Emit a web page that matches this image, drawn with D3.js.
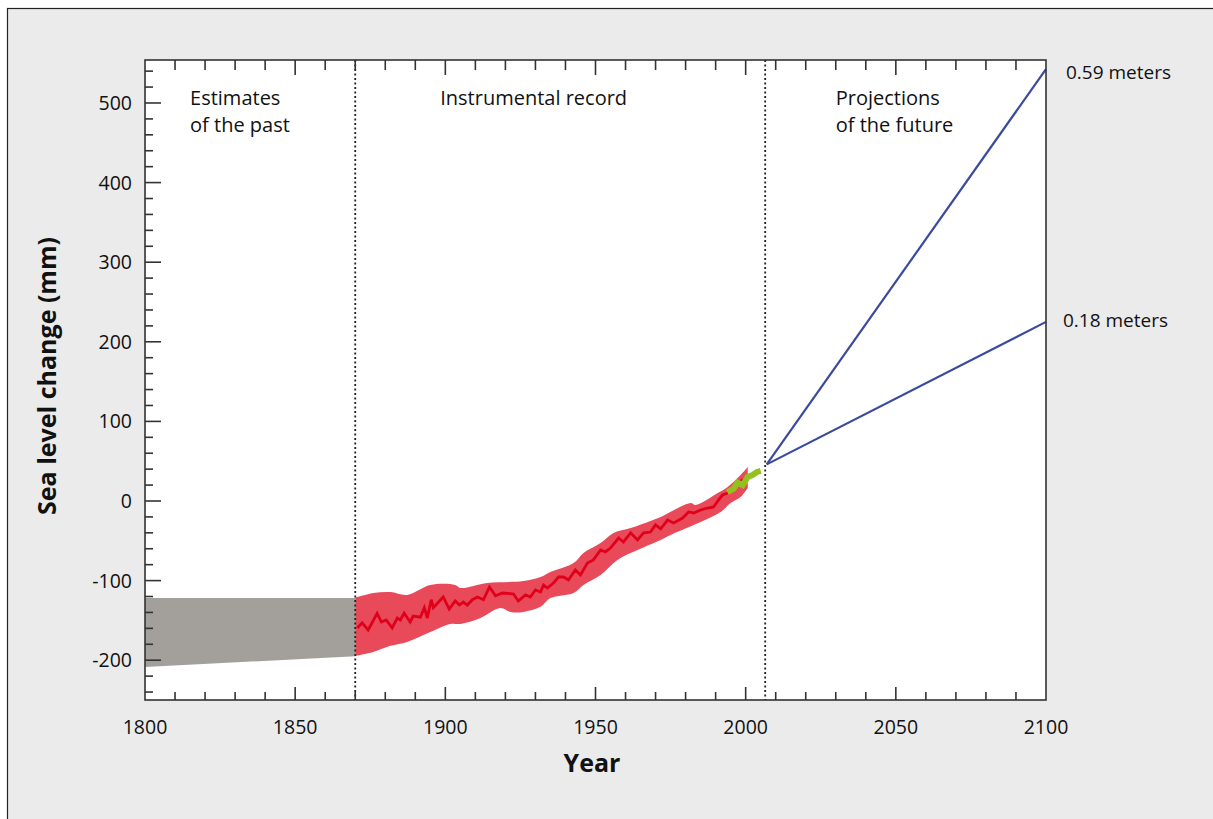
<!DOCTYPE html>
<html><head><meta charset="utf-8">
<script src="https://cdn.jsdelivr.net/npm/d3@7"></script>
<style>body{margin:0;background:#fff}svg{display:block}text{font-family:"Open Sans",sans-serif;fill:#111}</style>
</head><body>
<svg id="c" width="1213" height="819"></svg>
<script>
// ---- data (years, mm) ----
const pastYears = [1800, 1870];
const pastUpper = [-122, -122];
const pastLower = [-208.5, -195];

const bandUpperYears = [1870,1876,1881.7,1887.3,1895,1903.3,1905,1914,1926,1931.7,1935,1942.7,1946,1951.7,1956,1961.7,1968.3,1971.7,1981.7,1983.3,1990.7,1994,1998.3,2000.7];
const bandUpper      = [-121.5,-115.6,-114.3,-118,-105.5,-105.5,-109.3,-103,-100.5,-95.5,-89.2,-78,-65.3,-52.8,-40.2,-34,-25,-20,-2.5,-5,10,17.6,32.7,42.7];
const bandLowerYears = [1870,1876,1881.7,1887.3,1895,1901.7,1905,1911.7,1918.3,1921.7,1926,1931.7,1935,1942.7,1946,1951.7,1957.3,1964,1971.7,1975,1985,1991.7,1995,1998.3,2000.7];
const bandLower      = [-194.7,-189.7,-182,-177,-164.6,-154.5,-154.5,-147,-134.4,-139.4,-139.4,-133,-122,-115.6,-105.5,-93,-74,-61.6,-49,-42.7,-26.4,-13.8,-2.5,5,16.3];

const recordYears = [1870.7,1872.3,1874.3,1877.3,1878.7,1880.3,1882.3,1884,1885,1886.3,1888.3,1889.3,1891.7,1893,1894,1895.3,1896,1899.3,1901.3,1903.3,1904.7,1906,1907.3,1909,1910.7,1912.7,1914.7,1916.7,1919,1922.7,1924.3,1926.7,1928.3,1930,1931.7,1932.7,1934,1936,1937.7,1939.3,1941,1943.3,1945,1947.3,1949.3,1951.7,1953.3,1955,1957.7,1959.3,1961.7,1964,1966,1968.3,1970,1971.7,1974,1976,1979,1981,1982.7,1985,1987.3,1989.3,1991,1992.3,1994,1995.7,1997.3,1999,2000];
const recordValues = [-159.5,-153,-162,-141,-152,-149.5,-159.5,-147,-149.5,-141,-152,-144.5,-146,-134,-147,-124,-134,-120.6,-135.7,-125.6,-130.7,-127,-130.7,-124,-120.6,-124,-108,-119,-115.6,-116.8,-125.6,-118,-120.6,-111.8,-114.3,-105.5,-109.3,-103,-95.5,-95.5,-99,-86.7,-93,-78,-74,-61.6,-64,-59,-46.5,-51.5,-40,-49,-40,-39,-30,-35,-24,-27.6,-21.4,-13.8,-15,-11.3,-8.8,-7.5,1.3,7.5,10,16.3,22.6,26.4,27.6];

const satYears  = [1993.9,1996,1997.3,1999,2000.7,2002.3,2003.8,2005];
const satValues = [11,15.5,23,20,30.5,32.7,36.5,37.8];

const projStartYear = 2007, projStartValue = 46;
const projEndYear = 2100;
const projHigh = 542.5, projLow = 225;
const projLabels = ["0.59 meters", "0.18 meters"];

const dividerYears = [1870, 2006.5];
const sectionLabels = [
  {year: 1815, lines: ["Estimates", "of the past"]},
  {year: 1898.3, lines: ["Instrumental record"]},
  {year: 2030, lines: ["Projections", "of the future"]}
];
const yMajorTicks = [-200,-100,0,100,200,300,400,500];
const xMajorTicks = [1800,1850,1900,1950,2000,2050,2100];

// ---- drawing ----
const svg = d3.select("#c");
svg.append("rect").attr("x",0).attr("y",0).attr("width",1213).attr("height",819).attr("fill","#fff");
svg.append("rect").attr("x",7.5).attr("y",8.5).attr("width",1230).attr("height",830)
  .attr("fill","#ebebeb").attr("stroke","#222").attr("stroke-width",1.2);

const L=145, R=1046, T=60, B=700;
const x = d3.scaleLinear().domain([1800,2100]).range([L,R]);
const y = d3.scaleLinear().domain([-250,554]).range([B,T]);

svg.append("rect").attr("x",L).attr("y",T).attr("width",R-L).attr("height",B-T).attr("fill","#fff");

// grey past band
const pastArea = d3.area().x((d,i)=>x(pastYears[i])).y0((d,i)=>y(pastLower[i])).y1((d,i)=>y(pastUpper[i]));
svg.append("path").attr("d", pastArea(pastYears)).attr("fill","#a39f9a");

// red uncertainty band
const up = bandUpperYears.map((yr,i)=>[x(yr), y(bandUpper[i])]);
const lo = bandLowerYears.map((yr,i)=>[x(yr), y(bandLower[i])]).reverse();
const smooth = d3.line().curve(d3.curveCatmullRom.alpha(0.5));
const bandPath = smooth(up) + "L" + smooth(lo).slice(1) + "Z";
svg.append("path").attr("d", bandPath).attr("fill","#e84a5a");

// red record line
const recLine = d3.line().x((d,i)=>x(recordYears[i])).y((d,i)=>y(recordValues[i]));
svg.append("path").attr("d", recLine(recordYears)).attr("fill","none")
  .attr("stroke","#e0001b").attr("stroke-width",2.8).attr("stroke-linejoin","miter");

// green satellite line
const satLine = d3.line().x((d,i)=>x(satYears[i])).y((d,i)=>y(satValues[i]));
svg.append("path").attr("d", satLine(satYears)).attr("fill","none")
  .attr("stroke","#95c11f").attr("stroke-width",6);

// projection lines
[projHigh, projLow].forEach(v=>{
  svg.append("line").attr("x1",x(projStartYear)).attr("y1",y(projStartValue))
    .attr("x2",x(projEndYear)).attr("y2",y(v)).attr("stroke","#3a4a9c").attr("stroke-width",2.2);
});

// dividers
dividerYears.forEach(yr=>{
  svg.append("line").attr("x1",x(yr)).attr("x2",x(yr)).attr("y1",T).attr("y2",B)
    .attr("stroke","#222").attr("stroke-width",1.8).attr("stroke-dasharray","2,2.5");
});

// frame
svg.append("rect").attr("x",L).attr("y",T).attr("width",R-L).attr("height",B-T)
  .attr("fill","none").attr("stroke","#333").attr("stroke-width",1.6);

// left axis ticks
const yTicksAll = d3.range(-240, 541, 20);
yTicksAll.forEach(v=>{
  const major = yMajorTicks.includes(v);
  svg.append("line").attr("x1",L).attr("x2",L+(major?16:8)).attr("y1",y(v)).attr("y2",y(v))
    .attr("stroke","#333").attr("stroke-width",1.6);
});
yMajorTicks.forEach(v=>{
  svg.append("text").attr("x",132).attr("y",y(v)).attr("dy","0.36em").attr("text-anchor","end")
    .attr("font-size",19.5).text(v);
});

// x ticks (top and bottom)
d3.range(1810, 2100, 10).forEach(v=>{
  const major = v % 50 === 0;
  svg.append("line").attr("x1",x(v)).attr("x2",x(v)).attr("y1",B).attr("y2",B-(major?13:8))
    .attr("stroke","#333").attr("stroke-width",1.6);
  svg.append("line").attr("x1",x(v)).attr("x2",x(v)).attr("y1",T).attr("y2",T+(major?15:10))
    .attr("stroke","#333").attr("stroke-width",1.6);
});
xMajorTicks.forEach(v=>{
  svg.append("text").attr("x",x(v)).attr("y",734).attr("text-anchor","middle")
    .attr("font-size",19.5).text(v);
});

// section labels
sectionLabels.forEach(s=>{
  s.lines.forEach((ln,i)=>{
    svg.append("text").attr("x",x(s.year)).attr("y",105+i*27).attr("font-size",20).text(ln);
  });
});

// projection labels
svg.append("text").attr("x",1066).attr("y",79).attr("font-size",19).text(projLabels[0]);
svg.append("text").attr("x",1063).attr("y",327).attr("font-size",19).text(projLabels[1]);

// axis titles
svg.append("text").attr("x",592).attr("y",772).attr("text-anchor","middle")
  .attr("font-size",25).attr("font-weight","bold").text("Year");
svg.append("text").attr("transform","translate(56,376) rotate(-90)").attr("text-anchor","middle")
  .attr("font-size",25).attr("font-weight","bold").text("Sea level change (mm)");
</script>
</body></html>
